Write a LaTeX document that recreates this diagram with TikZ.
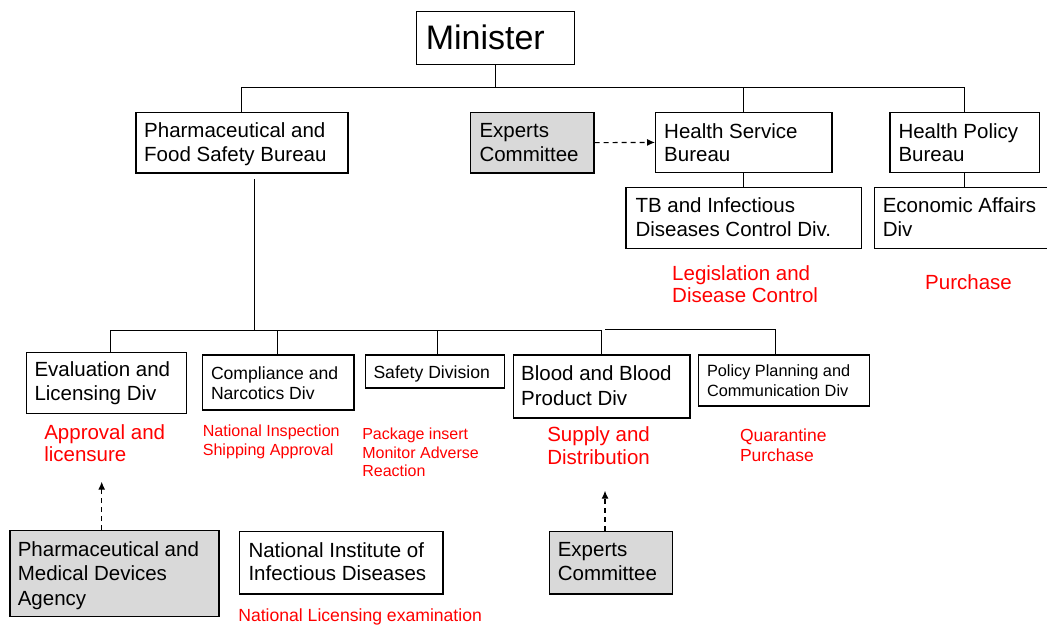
\documentclass[tikz,border=0pt]{standalone}
\usepackage{fontspec}
\setmainfont{Liberation Sans}
\usetikzlibrary{arrows.meta}
\definecolor{boxgray}{HTML}{D9D9D9}
\definecolor{lblred}{HTML}{FF0000}
\newcommand{\ml}[1]{\begin{tabular}[t]{@{}l@{}}#1\end{tabular}}
\tikzset{
  box/.style={draw=black, line width=1.2pt, inner sep=0pt, anchor=north west},
  gbox/.style={box, fill=boxgray},
  txt/.style={anchor=base west, inner sep=0pt, outer sep=0pt},
  bigf/.style={font=\fontsize{20.5}{23.5}\selectfont},
  medf/.style={font=\fontsize{17.6}{20}\selectfont},
  smlf/.style={font=\fontsize{16.1}{18.5}\selectfont},
  redt/.style={text=lblred},
  conn/.style={line width=1.1pt},
  dasharrow/.style={line width=1.1pt, dash pattern=on 5pt off 4pt, -{Latex[length=8pt,width=7pt]}}
}
\begin{document}
\begin{tikzpicture}[x=1pt,y=-1pt]
\useasboundingbox (0,0) rectangle (1047,626);
\clip (0,0) rectangle (1047,626);
% boxes
\node[box, minimum width=157.7pt, minimum height=53.3pt] (min) at (416,10.7) {};
\node[box, minimum width=212pt, minimum height=60.6pt] (pfsb) at (135.3,111.7) {};
\node[gbox, minimum width=123.3pt, minimum height=60.6pt] (exp1) at (470,111.7) {};
\node[box, minimum width=176.3pt, minimum height=60.3pt] (hsb) at (655,111.7) {};
\node[box, minimum width=149.7pt, minimum height=60.3pt] (hpb) at (889.3,111.7) {};
\node[box, minimum width=235.7pt, minimum height=61pt] (tb) at (625.3,187) {};
\node[box, minimum width=180pt, minimum height=61pt] (econ) at (874,187) {};
\node[box, minimum width=160.3pt, minimum height=61pt] (eval) at (25.7,351.7) {};
\node[box, minimum width=151.6pt, minimum height=55pt] (comp) at (201.7,354.3) {};
\node[box, minimum width=139pt, minimum height=33pt] (safety) at (365,354.3) {};
\node[box, minimum width=176.6pt, minimum height=63pt] (blood) at (512.7,354.3) {};
\node[box, minimum width=170.7pt, minimum height=51pt] (policy) at (698,354.3) {};
\node[gbox, minimum width=209pt, minimum height=85.7pt] (pmda) at (9.3,530) {};
\node[box, minimum width=203.6pt, minimum height=62.3pt] (niid) at (238.7,531) {};
\node[gbox, minimum width=123pt, minimum height=62.6pt] (exp2) at (548.7,530.7) {};
% box texts
\node[txt, font=\fontsize{34}{40}\selectfont] (tmin) at (425.8,50) {Minister};
\node[txt, bigf] (tpfsb) at (144.2,137.7) {\ml{Pharmaceutical and\\Food Safety Bureau}};
\node[txt, bigf] (texp1) at (479.5,137.7) {\ml{Experts\\Committee}};
\node[txt, bigf] (thsb) at (664.2,138) {\ml{Health Service\\Bureau}};
\node[txt, bigf] (thpb) at (898.5,138) {\ml{Health Policy\\Bureau}};
\node[txt, bigf] (ttb) at (635.5,212.7) {\ml{TB and Infectious\\Diseases Control Div.}};
\node[txt, bigf] (tecon) at (882.8,212.7) {\ml{Economic Affairs\\Div}};
\node[txt, bigf] (teval) at (34.5,376.7) {\ml{Evaluation and\\Licensing Div}};
\node[txt, medf] (tcomp) at (211,379.3) {\ml{Compliance and\\Narcotics Div}};
\node[txt, medf] (tsafety) at (373.5,378.3) {Safety Division};
\node[txt, font=\fontsize{20.5}{24.3}\selectfont] (tblood) at (521.2,380.7) {\ml{Blood and Blood\\Product Div}};
\node[txt, font=\fontsize{16.3}{20}\selectfont] (tpolicy) at (707,376) {\ml{Policy Planning and\\Communication Div}};
\node[txt, font=\fontsize{20.5}{24.2}\selectfont] (tpmda) at (17.8,556.7) {\ml{Pharmaceutical and\\Medical Devices\\Agency}};
\node[txt, bigf] (tniid) at (248.5,557.3) {\ml{National Institute of\\Infectious Diseases}};
\node[txt, bigf] (texp2) at (557.8,556.7) {\ml{Experts\\Committee}};
% red labels
\node[txt, redt, font=\fontsize{20.5}{22.7}\selectfont] (lleg) at (672.2,280) {\ml{Legislation and\\Disease Control}};
\node[txt, bigf, redt] (lpur) at (925.2,289) {Purchase};
\node[txt, redt, font=\fontsize{20.5}{22.7}\selectfont] (lapp) at (44.3,439) {\ml{Approval and\\licensure}};
\node[txt, redt, font=\fontsize{16.1}{18.3}\selectfont] (lnat) at (202.8,436.7) {\ml{National Inspection\\Shipping Approval}};
\node[txt, redt, font=\fontsize{16}{18.7}\selectfont] (lpkg) at (362.3,439.3) {\ml{Package insert\\Monitor Adverse\\Reaction}};
\node[txt, redt, font=\fontsize{20.5}{22.6}\selectfont] (lsup) at (547.3,441.7) {\ml{Supply and\\Distribution}};
\node[txt, redt, font=\fontsize{17.5}{20}\selectfont] (lqua) at (740,441.7) {\ml{Quarantine\\Purchase}};
\node[txt, redt, medf] (llic) at (238.3,621.7) {National Licensing examination};
% connectors: top level
\coordinate (tbus) at (240.7,87.5);
\draw[conn] (min.south) -- (min.south |- tbus);
\draw[conn] (pfsb.north) |- (hpb.north |- tbus) -- (hpb.north);
\draw[conn] (hsb.north |- tbus) -- (hsb.north);
\draw[conn] (hsb.south) -- (tb.north);
\draw[conn] (hpb.south) -- (hpb.south |- econ.north);
\draw[dasharrow] (exp1.east) -- (hsb.west);
% connectors: lower level
\coordinate (pst) at (254.5,179);
\coordinate (bus1) at (110.5,330.5);
\coordinate (bus2) at (601.5,330.5);
\coordinate (bus3) at (605,329.5);
\coordinate (bus4) at (775.5,329.5);
\coordinate (busc) at (277.5,330.5);
\coordinate (buss) at (437.5,330.5);
\draw[conn] (pst) -- (pst |- bus1);
\draw[conn] (bus1 |- eval.north) -- (bus1) -- (bus2) -- (bus2 |- blood.north);
\draw[conn] (bus3) -- (bus4) -- (bus4 |- policy.north);
\draw[conn] (busc) -- (busc |- comp.north);
\draw[conn] (buss) -- (buss |- safety.north);
% dashed arrows
\coordinate (tip1) at (101.7,481.7);
\coordinate (tip2) at (605,490.7);
\draw[dasharrow] (pmda.north -| tip1) -- (tip1);
\draw[dasharrow] (exp2.north -| tip2) -- (tip2);
\end{tikzpicture}
\end{document}
